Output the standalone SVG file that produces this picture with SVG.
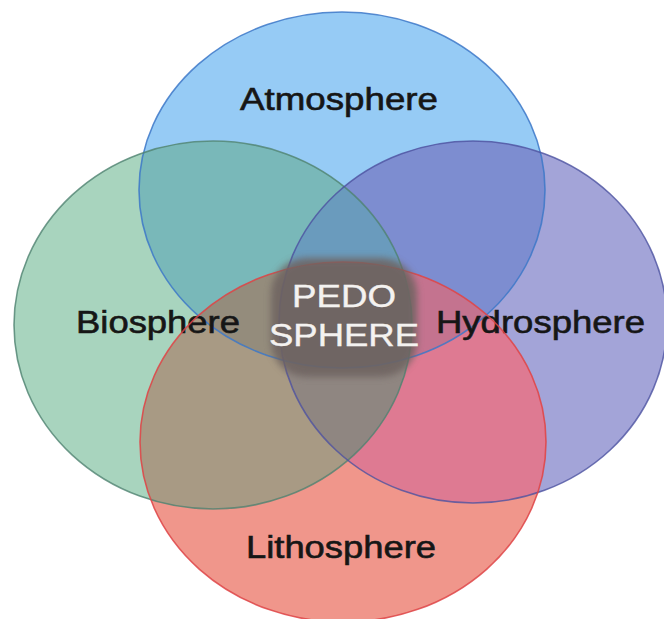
<svg xmlns="http://www.w3.org/2000/svg" width="664" height="619" viewBox="0 0 664 619">
  <style>
    .lbl { font-family: "Liberation Sans", Arial, sans-serif; font-size: 31px; fill: #161616; stroke: #161616; stroke-width: 0.6; }
    .ped { font-family: "Liberation Sans", Arial, sans-serif; font-size: 31px; fill: #f4f2f0; stroke: #f4f2f0; stroke-width: 0.4; }
    .edge { fill: none; stroke-width: 1.6; }
  </style>
  <defs>
    <clipPath id="cA"><ellipse cx="342" cy="190" rx="203" ry="178"/></clipPath>
    <clipPath id="cB"><ellipse cx="213" cy="325" rx="199" ry="184"/></clipPath>
    <clipPath id="cH"><ellipse cx="473" cy="322" rx="194" ry="181"/></clipPath>
    <clipPath id="cL"><ellipse cx="343" cy="442" rx="203" ry="180"/></clipPath>
    <filter id="blur" x="-20%" y="-20%" width="140%" height="140%">
      <feGaussianBlur stdDeviation="3.5"/>
    </filter>
  </defs>
  <rect width="664" height="619" fill="#ffffff"/>

  <g id="fills">
    <!-- singles -->
    <ellipse cx="342" cy="190" rx="203" ry="178" fill="#96cbf5"/>
    <ellipse cx="213" cy="325" rx="199" ry="184" fill="#a8d4be"/>
    <ellipse cx="473" cy="322" rx="194" ry="181" fill="#a3a4d8"/>
    <ellipse cx="343" cy="442" rx="203" ry="180" fill="#f0968b"/>
    <!-- pairs -->
    <g clip-path="url(#cA)"><ellipse cx="213" cy="325" rx="199" ry="184" fill="#79b8b9"/></g>
    <g clip-path="url(#cA)"><ellipse cx="473" cy="322" rx="194" ry="181" fill="#7d8dd0"/></g>
    <g clip-path="url(#cA)"><ellipse cx="343" cy="442" rx="203" ry="180" fill="#b08aa0"/></g>
    <g clip-path="url(#cB)"><ellipse cx="473" cy="322" rx="194" ry="181" fill="#7a9cb0"/></g>
    <g clip-path="url(#cB)"><ellipse cx="343" cy="442" rx="203" ry="180" fill="#a89a84"/></g>
    <g clip-path="url(#cH)"><ellipse cx="343" cy="442" rx="203" ry="180" fill="#de7a92"/></g>
    <!-- triples -->
    <g clip-path="url(#cA)"><g clip-path="url(#cB)"><ellipse cx="473" cy="322" rx="194" ry="181" fill="#6a9bbd"/></g></g>
    <g clip-path="url(#cB)"><g clip-path="url(#cH)"><ellipse cx="343" cy="442" rx="203" ry="180" fill="#8f8681"/></g></g>
    <g clip-path="url(#cA)"><g clip-path="url(#cB)"><ellipse cx="343" cy="442" rx="203" ry="180" fill="#948c7c"/></g></g>
    <g clip-path="url(#cA)"><g clip-path="url(#cH)"><ellipse cx="343" cy="442" rx="203" ry="180" fill="#c4738f"/></g></g>
    <!-- all four -->
    <g clip-path="url(#cA)"><g clip-path="url(#cB)"><g clip-path="url(#cH)"><ellipse cx="343" cy="442" rx="203" ry="180" fill="#7d7580"/></g></g></g>
  </g>

  <g id="atmosphere">
    <ellipse class="edge" cx="342" cy="190" rx="203" ry="178" stroke="#3d78c8" stroke-opacity="0.85"/>
    <text class="lbl" x="240" y="110" textLength="198" lengthAdjust="spacingAndGlyphs">Atmosphere</text>
  </g>
  <g id="biosphere">
    <ellipse class="edge" cx="213" cy="325" rx="199" ry="184" stroke="#4f8270" stroke-opacity="0.8"/>
    <text class="lbl" x="76" y="333" textLength="164" lengthAdjust="spacingAndGlyphs">Biosphere</text>
  </g>
  <g id="hydrosphere">
    <ellipse class="edge" cx="473" cy="322" rx="194" ry="181" stroke="#4c52a0" stroke-opacity="0.8"/>
    <text class="lbl" x="436" y="333" textLength="209" lengthAdjust="spacingAndGlyphs">Hydrosphere</text>
  </g>
  <g id="lithosphere">
    <ellipse class="edge" cx="343" cy="442" rx="203" ry="180" stroke="#de4446" stroke-opacity="0.85"/>
    <text class="lbl" x="246" y="558" textLength="190" lengthAdjust="spacingAndGlyphs">Lithosphere</text>
  </g>

  <g id="pedosphere">
    <rect x="271" y="258" width="146" height="119" rx="36" ry="36" fill="#6e6360" opacity="0.88" filter="url(#blur)"/>
    <text class="ped" x="292" y="307" textLength="104" lengthAdjust="spacingAndGlyphs">PEDO</text>
    <text class="ped" x="269" y="346" textLength="150" lengthAdjust="spacingAndGlyphs">SPHERE</text>
  </g>
</svg>
